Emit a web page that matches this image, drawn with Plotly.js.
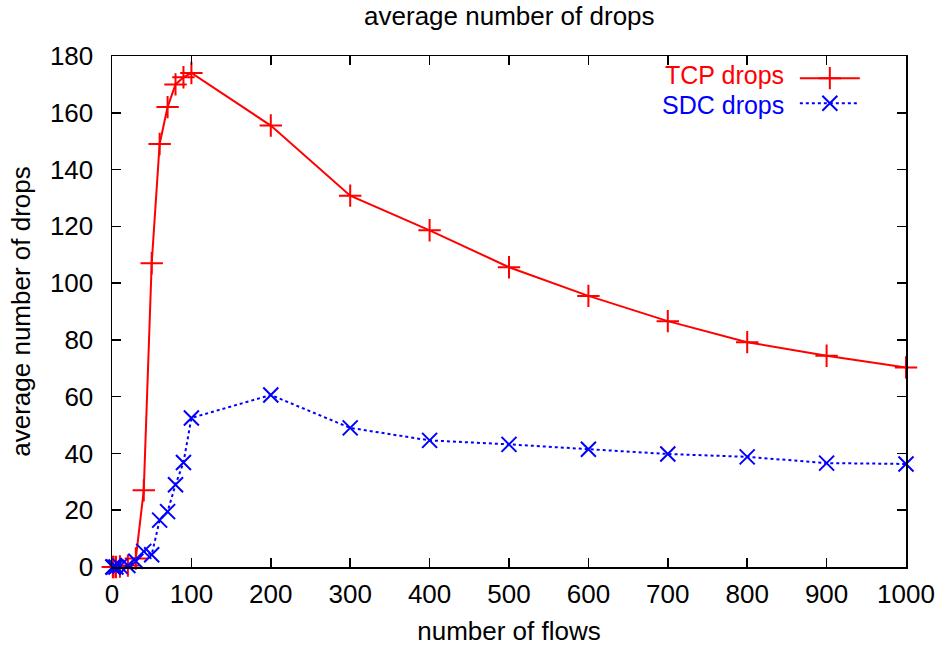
<!DOCTYPE html>
<html>
<head>
<meta charset="utf-8">
<script src="https://cdn.plot.ly/plotly-3.0.1.min.js"></script>
<style>
html,body{margin:0;padding:0;background:#fff;}
#chart{width:938px;height:649px;}
</style>
</head>
<body>
<div id="chart"></div>
<script>
// Data
var flows = [1, 2, 5, 10, 20, 30, 40, 50, 60, 70, 80, 90, 100, 200, 300, 400, 500, 600, 700, 800, 900, 1000];
var tcpDrops = [0, 0, 0, 0.2, 0.5, 3, 27, 107, 149, 162, 170, 172.5, 174, 155.5, 130.8, 118.6, 105.6, 95.5, 86.6, 79.2, 74.4, 70.3];
var sdcDrops = [0, 0, 0, 0.3, 0.5, 2, 5.5, 4.3, 16.5, 19.5, 29, 36.8, 52.5, 60.6, 49, 44.6, 43.2, 41.5, 39.8, 38.8, 36.6, 36.3];
var seriesNames = ["TCP drops", "SDC drops"];
var xTicks = [0, 100, 200, 300, 400, 500, 600, 700, 800, 900, 1000];
var yTicks = [0, 20, 40, 60, 80, 100, 120, 140, 160, 180];

var FONT = "Liberation Sans, Arial, Helvetica, sans-serif";
var FS = 26;

var traces = [
  {
    x: flows, y: tcpDrops, type: "scatter", mode: "lines+markers", name: "", cliponaxis: false,
    line: {color: "#ff0000", width: 2},
    marker: {symbol: "cross-thin-open", size: 16, color: "#ff0000", line: {color: "#ff0000", width: 2}}
  },
  {
    x: flows, y: sdcDrops, type: "scatter", mode: "lines+markers", name: "", cliponaxis: false,
    line: {color: "#0000ff", width: 2, dash: "dot"},
    marker: {symbol: "x-thin-open", size: 15, color: "#0000ff", line: {color: "#0000ff", width: 2}}
  }
];

var layout = {
  width: 938, height: 649,
  margin: {l: 112, r: 32, t: 56, b: 82},
  paper_bgcolor: "#ffffff", plot_bgcolor: "#ffffff",
  font: {family: FONT, size: FS, color: "#000"},
  title: {text: "average number of drops", font: {family: FONT, size: FS, color: "#000"}, x: 0.543, xanchor: "center", yref: "container", y: 0.976, yanchor: "middle"},
  xaxis: {
    range: [0, 1000], tickvals: xTicks, ticktext: xTicks.map(String),
    showgrid: false, zeroline: false, showline: true, linecolor: "#000", linewidth: 1.5, mirror: "allticks",
    ticks: "inside", ticklen: 9, tickwidth: 1.5, tickcolor: "#000", ticklabelstandoff: 3,
    tickfont: {family: FONT, size: FS, color: "#000"},
    title: {text: "number of flows", font: {family: FONT, size: FS, color: "#000"}, standoff: 14}
  },
  yaxis: {
    range: [0, 180], tickvals: yTicks, ticktext: yTicks.map(String),
    showgrid: false, zeroline: false, showline: true, linecolor: "#000", linewidth: 1.5, mirror: "allticks",
    ticks: "inside", ticklen: 9, tickwidth: 1.5, tickcolor: "#000", ticklabelstandoff: 12,
    tickfont: {family: FONT, size: FS, color: "#000"},
    title: {text: "average number of drops", font: {family: FONT, size: FS, color: "#000"}, standoff: 12}
  },
  showlegend: true,
  legend: {
    x: 0.86, y: 0.991, xanchor: "left", yanchor: "top",
    bgcolor: "rgba(0,0,0,0)", borderwidth: 0, itemwidth: 60,
    font: {family: FONT, size: 17}, tracegroupgap: 0
  },
  annotations: [
    {text: seriesNames[0], xref: "paper", yref: "paper", x: 0.848, y: 0.9635, xanchor: "right", yanchor: "middle", showarrow: false, borderpad: 0, font: {family: FONT, size: 25, color: "#ff0000"}},
    {text: seriesNames[1], xref: "paper", yref: "paper", x: 0.848, y: 0.9045, xanchor: "right", yanchor: "middle", showarrow: false, borderpad: 0, font: {family: FONT, size: 25, color: "#0000ff"}}
  ]
};

Plotly.newPlot("chart", traces, layout, {displayModeBar: false, staticPlot: true});
</script>
</body>
</html>
